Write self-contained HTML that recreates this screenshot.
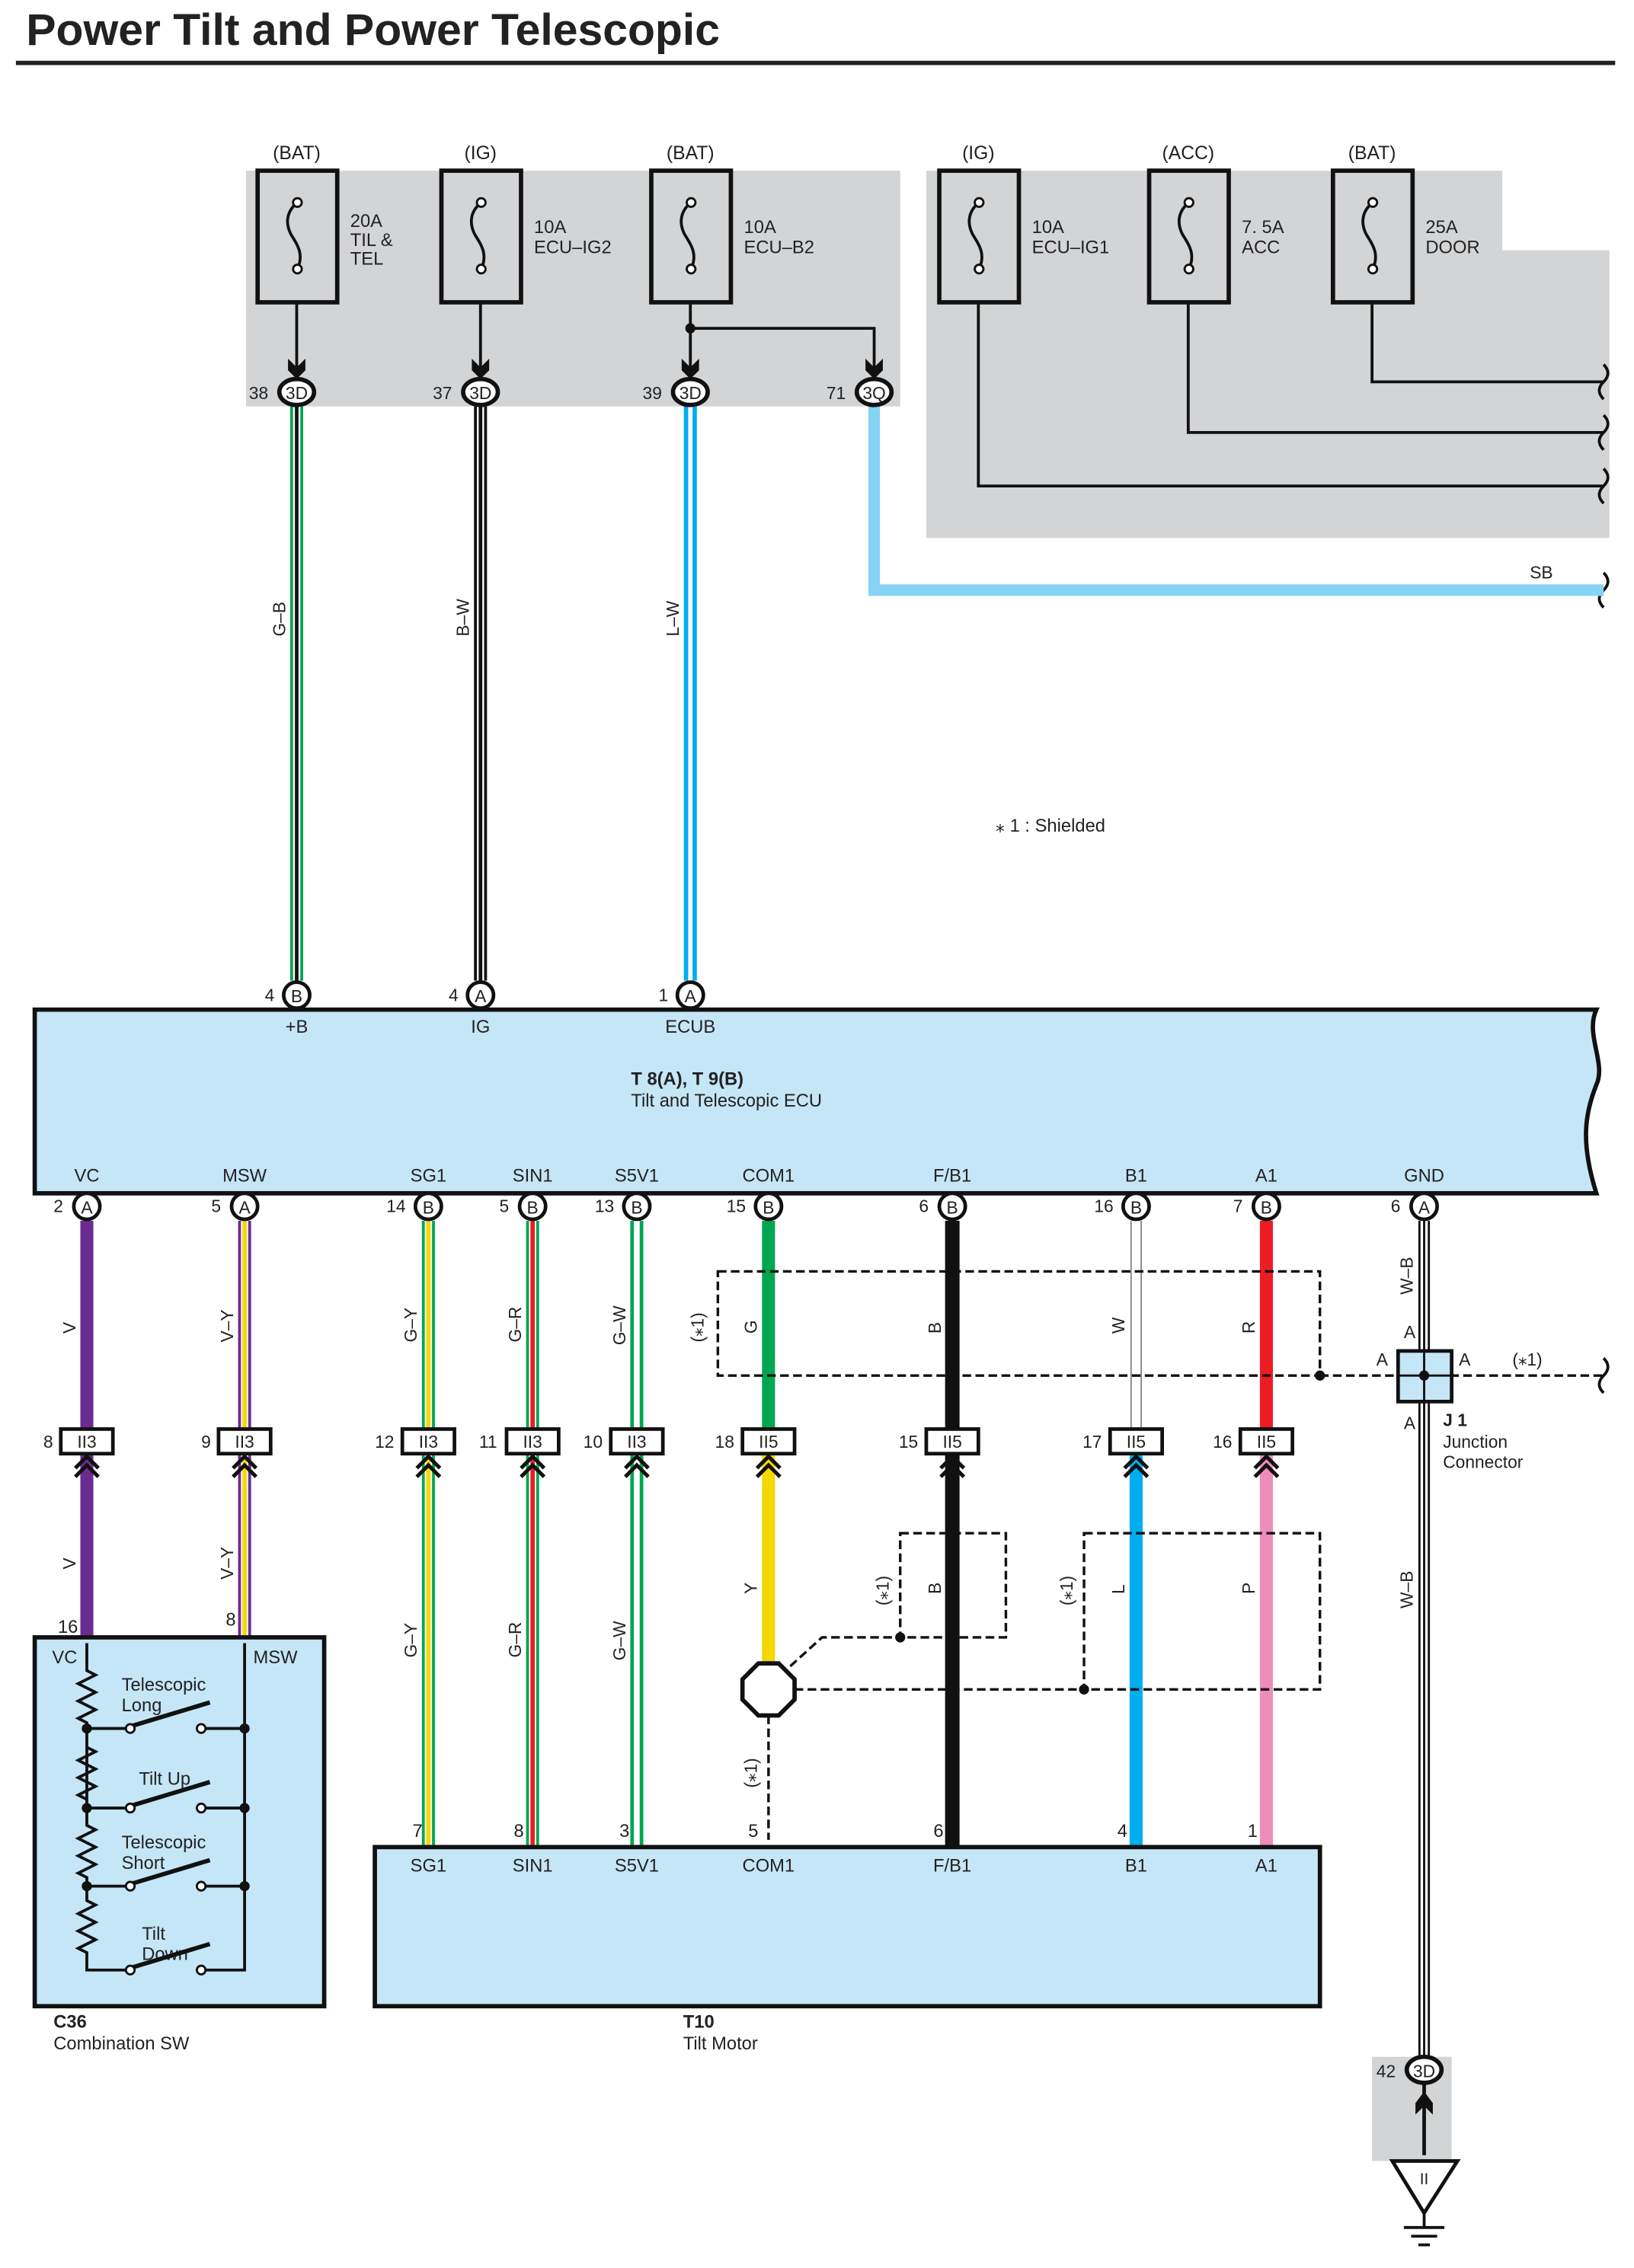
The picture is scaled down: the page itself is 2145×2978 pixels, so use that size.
<!DOCTYPE html>
<html><head><meta charset="utf-8"><style>
html,body{margin:0;padding:0;background:#fff}
svg{display:block}
text{font-family:"Liberation Sans",sans-serif;fill:#222}
</style></head><body>
<svg width="2145" height="2978" viewBox="0 0 1129 1568" preserveAspectRatio="none" xmlns="http://www.w3.org/2000/svg">
<defs>
<g id="chev"><path d="M-8,8 L0,0 L8,8 M-8,14 L0,6 L8,14" fill="none" stroke="#111" stroke-width="2.6"/></g>
<g id="fuse"><rect x="0" y="0" width="55" height="91" fill="none" stroke="#111" stroke-width="3"/><path d="M27.5,22 C20,28 19,36 23,44 C28,52 32,58 27.5,68" fill="none" stroke="#111" stroke-width="2"/><circle cx="27.5" cy="22" r="3" fill="#fff" stroke="#111" stroke-width="1.5"/><circle cx="27.5" cy="68" r="3" fill="#fff" stroke="#111" stroke-width="1.5"/></g>
<g id="arrow"><path d="M-6,-14 L-6,-6 L0,0 L6,-6 L6,-14 L0,-8 Z" fill="#111"/></g>
</defs>
<text x="18" y="31" font-size="31" font-weight="bold" fill="#111">Power Tilt and Power Telescopic</text>
<rect x="11" y="42" width="1105" height="3" fill="#222"/>

<rect x="170" y="118" width="452" height="163" fill="#d3d4d6"/>
<path d="M640,118 H1038 V173 H1112 V372 H640 Z" fill="#d3d4d6"/>

<g font-size="13">
<text x="205" y="110" text-anchor="middle">(BAT)</text>
<text x="332" y="110" text-anchor="middle">(IG)</text>
<text x="477" y="110" text-anchor="middle">(BAT)</text>
<text x="676" y="110" text-anchor="middle">(IG)</text>
<text x="821" y="110" text-anchor="middle">(ACC)</text>
<text x="948" y="110" text-anchor="middle">(BAT)</text>
</g>
<use href="#fuse" x="178" y="118"/><use href="#fuse" x="305" y="118"/><use href="#fuse" x="450" y="118"/>
<use href="#fuse" x="649" y="118"/><use href="#fuse" x="794" y="118"/><use href="#fuse" x="921" y="118"/>
<g font-size="12.5">
<text x="242" y="157">20A</text><text x="242" y="170">TIL &amp;</text><text x="242" y="183">TEL</text>
<text x="369" y="161">10A</text><text x="369" y="175">ECU–IG2</text>
<text x="514" y="161">10A</text><text x="514" y="175">ECU–B2</text>
<text x="713" y="161">10A</text><text x="713" y="175">ECU–IG1</text>
<text x="858" y="161">7. 5A</text><text x="858" y="175">ACC</text>
<text x="985" y="161">25A</text><text x="985" y="175">DOOR</text>
</g>
<g stroke="#111" stroke-width="2" fill="none">
<path d="M205,209 V258"/><path d="M332,209 V258"/><path d="M477,209 V258"/><path d="M477,227 H604 V258"/>
<path d="M676,209 V336 H1108"/><path d="M821,209 V299 H1108"/><path d="M948,209 V264 H1108"/>
</g>
<circle cx="477" cy="227" r="3.5" fill="#111"/>
<use href="#arrow" x="205" y="262"/><use href="#arrow" x="332" y="262"/><use href="#arrow" x="477" y="262"/><use href="#arrow" x="604" y="262"/>
<g stroke="#111" stroke-width="2" fill="none">
<path d="M1108,252 q6,6 0,12 q-6,6 0,12"/><path d="M1108,287 q6,6 0,12 q-6,6 0,12"/><path d="M1108,324 q6,6 0,12 q-6,6 0,12"/><path d="M1108,396 q6,6 0,12 q-6,6 0,12"/>
<path d="M1108,939 q6,6 0,12 q-6,6 0,12"/>
</g>

<path d="M205,281 V678" stroke="#00a651" stroke-width="9"/><path d="M205,281 V678" stroke="#fff" stroke-width="5"/><path d="M205,281 V678" stroke="#111" stroke-width="2.5"/>
<path d="M332,281 V678" stroke="#111" stroke-width="9"/><path d="M332,281 V678" stroke="#fff" stroke-width="5"/><path d="M332,281 V678" stroke="#111" stroke-width="2.5"/>
<path d="M477,281 V678" stroke="#00aeef" stroke-width="9"/><path d="M477,281 V678" stroke="#fff" stroke-width="3"/>
<path d="M604,281 V408 H1108" stroke="#87d3f5" stroke-width="8" fill="none"/>
<text x="1057" y="400" font-size="12">SB</text>
<g font-size="12">
<text transform="translate(197,440) rotate(-90)">G–B</text>
<text transform="translate(324,440) rotate(-90)">B–W</text>
<text transform="translate(469,440) rotate(-90)">L–W</text>
</g>
<g font-size="12">
<ellipse cx="205" cy="271" rx="12" ry="9" fill="#fff" stroke="#111" stroke-width="3"/><text x="205" y="276" text-anchor="middle">3D</text><text x="172" y="276">38</text>
<ellipse cx="332" cy="271" rx="12" ry="9" fill="#fff" stroke="#111" stroke-width="3"/><text x="332" y="276" text-anchor="middle">3D</text><text x="299" y="276">37</text>
<ellipse cx="477" cy="271" rx="12" ry="9" fill="#fff" stroke="#111" stroke-width="3"/><text x="477" y="276" text-anchor="middle">3D</text><text x="444" y="276">39</text>
<ellipse cx="604" cy="271" rx="12" ry="9" fill="#fff" stroke="#111" stroke-width="3"/><text x="604" y="276" text-anchor="middle">3Q</text><text x="571" y="276">71</text>
</g>
<text x="688" y="575" font-size="12.5">⁎ 1 : Shielded</text>

<path d="M24,698 H1103 C1095,715 1110,735 1103,750 C1095,770 1092,790 1103,825 H24 Z" fill="#c5e6f7" stroke="#111" stroke-width="3"/>
<text x="436" y="750" font-size="12.5" font-weight="bold">T 8(A), T 9(B)</text>
<text x="436" y="765" font-size="12.5">Tilt and Telescopic ECU</text>
<g font-size="12.5" text-anchor="middle">
<text x="205" y="714">+B</text><text x="332" y="714">IG</text><text x="477" y="714">ECUB</text>
<text x="60" y="817">VC</text><text x="169" y="817">MSW</text><text x="296" y="817">SG1</text><text x="368" y="817">SIN1</text><text x="440" y="817">S5V1</text><text x="531" y="817">COM1</text><text x="658" y="817">F/B1</text><text x="785" y="817">B1</text><text x="875" y="817">A1</text><text x="984" y="817">GND</text>
</g>

<g fill="none">
<path d="M60,844 V1132" stroke="#6b2c91" stroke-width="9"/>
<path d="M169,844 V1132" stroke="#6b2c91" stroke-width="9"/><path d="M169,844 V1132" stroke="#fff" stroke-width="5"/><path d="M169,844 V1132" stroke="#f5d800" stroke-width="3"/>
<path d="M296,844 V1277" stroke="#00a651" stroke-width="9"/><path d="M296,844 V1277" stroke="#fff" stroke-width="5"/><path d="M296,844 V1277" stroke="#f5d800" stroke-width="3"/>
<path d="M368,844 V1277" stroke="#00a651" stroke-width="9"/><path d="M368,844 V1277" stroke="#fff" stroke-width="5"/><path d="M368,844 V1277" stroke="#ed1c24" stroke-width="3"/>
<path d="M440,844 V1277" stroke="#00a651" stroke-width="9"/><path d="M440,844 V1277" stroke="#fff" stroke-width="4"/>
<path d="M531,844 V996" stroke="#00a651" stroke-width="9"/>
<path d="M531,996 V1150" stroke="#f5d800" stroke-width="9"/>
<path d="M658,844 V1277" stroke="#111" stroke-width="10"/>
<path d="M785,844 V996" stroke="#888" stroke-width="8"/><path d="M785,844 V996" stroke="#fff" stroke-width="6"/>
<path d="M785,996 V1277" stroke="#00aeef" stroke-width="9"/>
<path d="M875,844 V996" stroke="#ed1c24" stroke-width="9"/>
<path d="M875,996 V1277" stroke="#f08cba" stroke-width="9"/>
<path d="M984,844 V1423" stroke="#111" stroke-width="8"/><path d="M984,844 V1423" stroke="#fff" stroke-width="5"/><path d="M984,844 V1423" stroke="#111" stroke-width="1.5"/>
</g>

<g fill="none" stroke="#111" stroke-width="1.8" stroke-dasharray="6,3">
<rect x="496" y="879" width="416" height="72"/>
<path d="M912,951 H1108"/>
<rect x="622" y="1060" width="73" height="72"/>
<rect x="749" y="1060" width="163" height="108"/>
<path d="M549,1168 H749"/>
<path d="M546,1152 L568,1132 H622"/>
<path d="M531,1186 V1272"/>
</g>
<circle cx="912" cy="951" r="3.5" fill="#111"/><circle cx="622" cy="1132" r="3.5" fill="#111"/><circle cx="749" cy="1168" r="3.5" fill="#111"/>
<rect x="966" y="934" width="37" height="35" fill="#c5e6f7" stroke="#111" stroke-width="2.5"/>
<path d="M984,934 V969 M966,951 H1003" stroke="#111" stroke-width="1.5"/>
<circle cx="984" cy="951" r="3.5" fill="#111"/>
<g font-size="12">
<text x="970" y="925">A</text><text x="951" y="944">A</text><text x="1008" y="944">A</text><text x="970" y="988">A</text>
<text x="1045" y="944">(⁎1)</text>
<text x="997" y="986" font-weight="bold">J 1</text>
<text x="997" y="1001">Junction</text><text x="997" y="1015">Connector</text>
</g>
<polygon points="524,1150 538,1150 549,1161 549,1175 538,1186 524,1186 513,1175 513,1161" fill="#fff" stroke="#111" stroke-width="3"/>

<g font-size="12">
<g><circle cx="60" cy="834" r="9" fill="#fff" stroke="#111" stroke-width="2.5"/><text x="60" y="839" text-anchor="middle">A</text><text x="37" y="838">2</text></g>
<g><circle cx="169" cy="834" r="9" fill="#fff" stroke="#111" stroke-width="2.5"/><text x="169" y="839" text-anchor="middle">A</text><text x="146" y="838">5</text></g>
<g><circle cx="296" cy="834" r="9" fill="#fff" stroke="#111" stroke-width="2.5"/><text x="296" y="839" text-anchor="middle">B</text><text x="267" y="838">14</text></g>
<g><circle cx="368" cy="834" r="9" fill="#fff" stroke="#111" stroke-width="2.5"/><text x="368" y="839" text-anchor="middle">B</text><text x="345" y="838">5</text></g>
<g><circle cx="440" cy="834" r="9" fill="#fff" stroke="#111" stroke-width="2.5"/><text x="440" y="839" text-anchor="middle">B</text><text x="411" y="838">13</text></g>
<g><circle cx="531" cy="834" r="9" fill="#fff" stroke="#111" stroke-width="2.5"/><text x="531" y="839" text-anchor="middle">B</text><text x="502" y="838">15</text></g>
<g><circle cx="658" cy="834" r="9" fill="#fff" stroke="#111" stroke-width="2.5"/><text x="658" y="839" text-anchor="middle">B</text><text x="635" y="838">6</text></g>
<g><circle cx="785" cy="834" r="9" fill="#fff" stroke="#111" stroke-width="2.5"/><text x="785" y="839" text-anchor="middle">B</text><text x="756" y="838">16</text></g>
<g><circle cx="875" cy="834" r="9" fill="#fff" stroke="#111" stroke-width="2.5"/><text x="875" y="839" text-anchor="middle">B</text><text x="852" y="838">7</text></g>
<g><circle cx="984" cy="834" r="9" fill="#fff" stroke="#111" stroke-width="2.5"/><text x="984" y="839" text-anchor="middle">A</text><text x="961" y="838">6</text></g>
<g><circle cx="205" cy="688" r="9" fill="#fff" stroke="#111" stroke-width="2.5"/><text x="205" y="693" text-anchor="middle">B</text><text x="183" y="692">4</text></g>
<g><circle cx="332" cy="688" r="9" fill="#fff" stroke="#111" stroke-width="2.5"/><text x="332" y="693" text-anchor="middle">A</text><text x="310" y="692">4</text></g>
<g><circle cx="477" cy="688" r="9" fill="#fff" stroke="#111" stroke-width="2.5"/><text x="477" y="693" text-anchor="middle">A</text><text x="455" y="692">1</text></g>
</g>

<g font-size="12">
<g><rect x="42" y="988" width="36" height="17" fill="#fff" stroke="#111" stroke-width="2.5"/><text x="60" y="1001" text-anchor="middle">II3</text><text x="30" y="1001">8</text><use href="#chev" x="60" y="1007"/></g>
<g><rect x="151" y="988" width="36" height="17" fill="#fff" stroke="#111" stroke-width="2.5"/><text x="169" y="1001" text-anchor="middle">II3</text><text x="139" y="1001">9</text><use href="#chev" x="169" y="1007"/></g>
<g><rect x="278" y="988" width="36" height="17" fill="#fff" stroke="#111" stroke-width="2.5"/><text x="296" y="1001" text-anchor="middle">II3</text><text x="259" y="1001">12</text><use href="#chev" x="296" y="1007"/></g>
<g><rect x="350" y="988" width="36" height="17" fill="#fff" stroke="#111" stroke-width="2.5"/><text x="368" y="1001" text-anchor="middle">II3</text><text x="331" y="1001">11</text><use href="#chev" x="368" y="1007"/></g>
<g><rect x="422" y="988" width="36" height="17" fill="#fff" stroke="#111" stroke-width="2.5"/><text x="440" y="1001" text-anchor="middle">II3</text><text x="403" y="1001">10</text><use href="#chev" x="440" y="1007"/></g>
<g><rect x="513" y="988" width="36" height="17" fill="#fff" stroke="#111" stroke-width="2.5"/><text x="531" y="1001" text-anchor="middle">II5</text><text x="494" y="1001">18</text><use href="#chev" x="531" y="1007"/></g>
<g><rect x="640" y="988" width="36" height="17" fill="#fff" stroke="#111" stroke-width="2.5"/><text x="658" y="1001" text-anchor="middle">II5</text><text x="621" y="1001">15</text><use href="#chev" x="658" y="1007"/></g>
<g><rect x="767" y="988" width="36" height="17" fill="#fff" stroke="#111" stroke-width="2.5"/><text x="785" y="1001" text-anchor="middle">II5</text><text x="748" y="1001">17</text><use href="#chev" x="785" y="1007"/></g>
<g><rect x="857" y="988" width="36" height="17" fill="#fff" stroke="#111" stroke-width="2.5"/><text x="875" y="1001" text-anchor="middle">II5</text><text x="838" y="1001">16</text><use href="#chev" x="875" y="1007"/></g>
</g>

<g font-size="12">
<text transform="translate(52,922) rotate(-90)">V</text>
<text transform="translate(161,928) rotate(-90)">V–Y</text>
<text transform="translate(288,928) rotate(-90)">G–Y</text>
<text transform="translate(360,928) rotate(-90)">G–R</text>
<text transform="translate(432,930) rotate(-90)">G–W</text>
<text transform="translate(486,928) rotate(-90)">(⁎1)</text>
<text transform="translate(523,922) rotate(-90)">G</text>
<text transform="translate(650,922) rotate(-90)">B</text>
<text transform="translate(777,922) rotate(-90)">W</text>
<text transform="translate(867,922) rotate(-90)">R</text>
<text transform="translate(976,895) rotate(-90)">W–B</text>
<text transform="translate(52,1085) rotate(-90)">V</text>
<text transform="translate(161,1092) rotate(-90)">V–Y</text>
<text transform="translate(288,1146) rotate(-90)">G–Y</text>
<text transform="translate(360,1146) rotate(-90)">G–R</text>
<text transform="translate(432,1148) rotate(-90)">G–W</text>
<text transform="translate(523,1102) rotate(-90)">Y</text>
<text transform="translate(614,1110) rotate(-90)">(⁎1)</text>
<text transform="translate(650,1102) rotate(-90)">B</text>
<text transform="translate(741,1110) rotate(-90)">(⁎1)</text>
<text transform="translate(777,1102) rotate(-90)">L</text>
<text transform="translate(867,1102) rotate(-90)">P</text>
<text transform="translate(523,1236) rotate(-90)">(⁎1)</text>
<text transform="translate(976,1112) rotate(-90)">W–B</text>
</g>

<rect x="24" y="1132" width="200" height="255" fill="#c5e6f7" stroke="#111" stroke-width="3"/>
<g font-size="12.5">
<text x="36" y="1150">VC</text><text x="175" y="1150">MSW</text>
<text x="40" y="1129">16</text><text x="156" y="1124">8</text>
<text x="84" y="1169">Telescopic</text><text x="84" y="1183">Long</text>
<text x="96" y="1234">Tilt Up</text>
<text x="84" y="1278">Telescopic</text><text x="84" y="1292">Short</text>
<text x="98" y="1341">Tilt</text><text x="98" y="1355">Down</text>
</g>
<g fill="none" stroke="#111" stroke-width="2">
<path d="M60,1136 V1155 l6,3 -12,6 12,6 -12,6 12,6 -12,6 6,3 V1250"/>
<path d="M60,1208 l6,3 -12,6 12,6 -12,6 12,6 -12,6 6,3"/>
<path d="M60,1250 V1262 l6,3 -12,6 12,6 -12,6 12,6 -12,6 6,3 V1304"/>
<path d="M60,1304 V1314 l6,3 -12,6 12,6 -12,6 12,6 -12,6 6,3 V1362 H88"/>
<path d="M169,1136 V1362 H141"/>
<path d="M60,1195 H88 M141,1195 H169 M60,1250 H88 M141,1250 H169 M60,1304 H88 M141,1304 H169"/>
</g>
<g fill="none" stroke="#111" stroke-width="3">
<path d="M92,1193 L145,1177 M92,1248 L145,1232 M92,1302 L145,1286 M92,1360 L145,1344"/>
</g>
<g fill="#fff" stroke="#111" stroke-width="1.5">
<circle cx="90" cy="1195" r="3"/><circle cx="139" cy="1195" r="3"/><circle cx="90" cy="1250" r="3"/><circle cx="139" cy="1250" r="3"/>
<circle cx="90" cy="1304" r="3"/><circle cx="139" cy="1304" r="3"/><circle cx="90" cy="1362" r="3"/><circle cx="139" cy="1362" r="3"/>
</g>
<g fill="#111"><circle cx="60" cy="1195" r="3.5"/><circle cx="169" cy="1195" r="3.5"/><circle cx="60" cy="1250" r="3.5"/><circle cx="169" cy="1250" r="3.5"/><circle cx="60" cy="1304" r="3.5"/><circle cx="169" cy="1304" r="3.5"/></g>
<text x="37" y="1402" font-size="12.5" font-weight="bold">C36</text>
<text x="37" y="1417" font-size="12.5">Combination SW</text>

<rect x="259" y="1277" width="653" height="110" fill="#c5e6f7" stroke="#111" stroke-width="3"/>
<g font-size="12.5">
<text x="285" y="1270">7</text><text x="355" y="1270">8</text><text x="428" y="1270">3</text><text x="517" y="1270">5</text><text x="645" y="1270">6</text><text x="772" y="1270">4</text><text x="862" y="1270">1</text>
</g>
<g font-size="12.5" text-anchor="middle">
<text x="296" y="1294">SG1</text><text x="368" y="1294">SIN1</text><text x="440" y="1294">S5V1</text><text x="531" y="1294">COM1</text><text x="658" y="1294">F/B1</text><text x="785" y="1294">B1</text><text x="875" y="1294">A1</text>
</g>
<text x="472" y="1402" font-size="12.5" font-weight="bold">T10</text>
<text x="472" y="1417" font-size="12.5">Tilt Motor</text>

<rect x="948" y="1422" width="55" height="72" fill="#d3d4d6"/>
<path d="M984,1440 V1490" stroke="#111" stroke-width="2.5"/>
<path d="M978,1462 L978,1454 L984,1446 L990,1454 L990,1462 L984,1456 Z" fill="#111"/>
<ellipse cx="984" cy="1431" rx="12" ry="9" fill="#fff" stroke="#111" stroke-width="3"/>
<text x="984" y="1436" font-size="12" text-anchor="middle">3D</text><text x="951" y="1436" font-size="12">42</text>
<polygon points="962,1494 1007,1494 984,1530" fill="#fff" stroke="#111" stroke-width="2.5"/>
<text x="984" y="1510" font-size="11" text-anchor="middle">II</text>
<path d="M984,1530 V1540 M970,1540 H998 M975,1546 H993 M980,1552 H988" stroke="#111" stroke-width="2"/>
</svg>
</body></html>
